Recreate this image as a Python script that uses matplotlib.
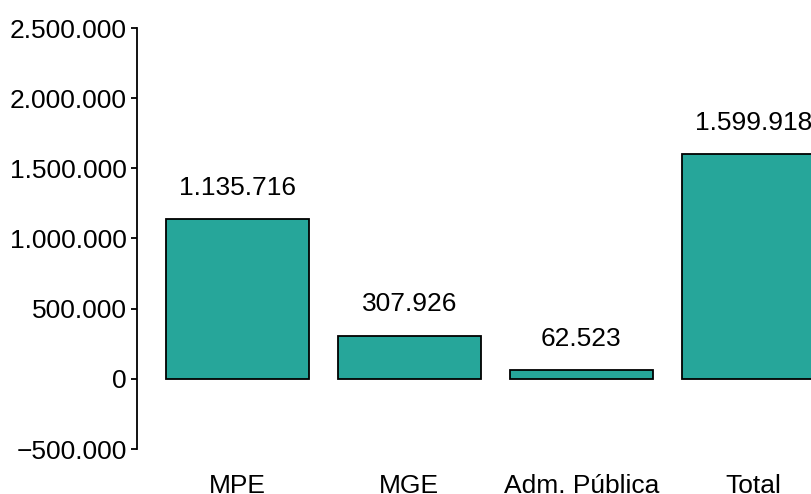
import matplotlib
matplotlib.use('Agg')
import matplotlib.pyplot as plt
from matplotlib.ticker import FuncFormatter

categories = ['MPE', 'MGE', 'Adm. Pública', 'Total']
values = [1135716, 307926, 62523, 1599918]
yticks = [-500000, 0, 500000, 1000000, 1500000, 2000000, 2500000]

BAR_COLOR = '#26A69A'
FS = 19


def fmt(v, pos=None):
    s = '{:,.0f}'.format(abs(v)).replace(',', '.')
    return ('\u2212' + s) if v < 0 else s


plt.rcParams['font.family'] = ['Liberation Sans', 'DejaVu Sans']

fig = plt.figure(figsize=(8.11, 4.94), dpi=100)
W, H = 811, 494
ax = fig.add_axes([137 / W, (H - 449) / H, 1 - 137 / W, (449 - 28) / H])

# R barplot style positions: width 1, space 0.2
xs = [0.7 + 1.2 * i for i in range(len(values))]
ax.bar(xs, values, width=1.0, color=BAR_COLOR, edgecolor='black', linewidth=1.3)

for x, v in zip(xs, values):
    ax.annotate(fmt(v), (x, v), xytext=(0, 14), textcoords='offset points',
                ha='center', va='bottom', fontsize=FS, annotation_clip=False)

ax.set_xlim(0, (W - 137) / 143.3)
ax.set_ylim(-500000, 2500000)
ax.set_yticks(yticks)
ax.yaxis.set_major_formatter(FuncFormatter(fmt))
ax.set_xticks(xs)
ax.set_xticklabels(categories)

for s in ['top', 'right', 'bottom']:
    ax.spines[s].set_visible(False)
ax.spines['left'].set_bounds(-500000, 2500000)
ax.spines['left'].set_linewidth(1.3)

ax.tick_params(axis='y', length=4.5, width=1.3, pad=3, labelsize=FS)
ax.tick_params(axis='x', length=0, pad=18, labelsize=FS)

fig.savefig('out.png', dpi=100)
